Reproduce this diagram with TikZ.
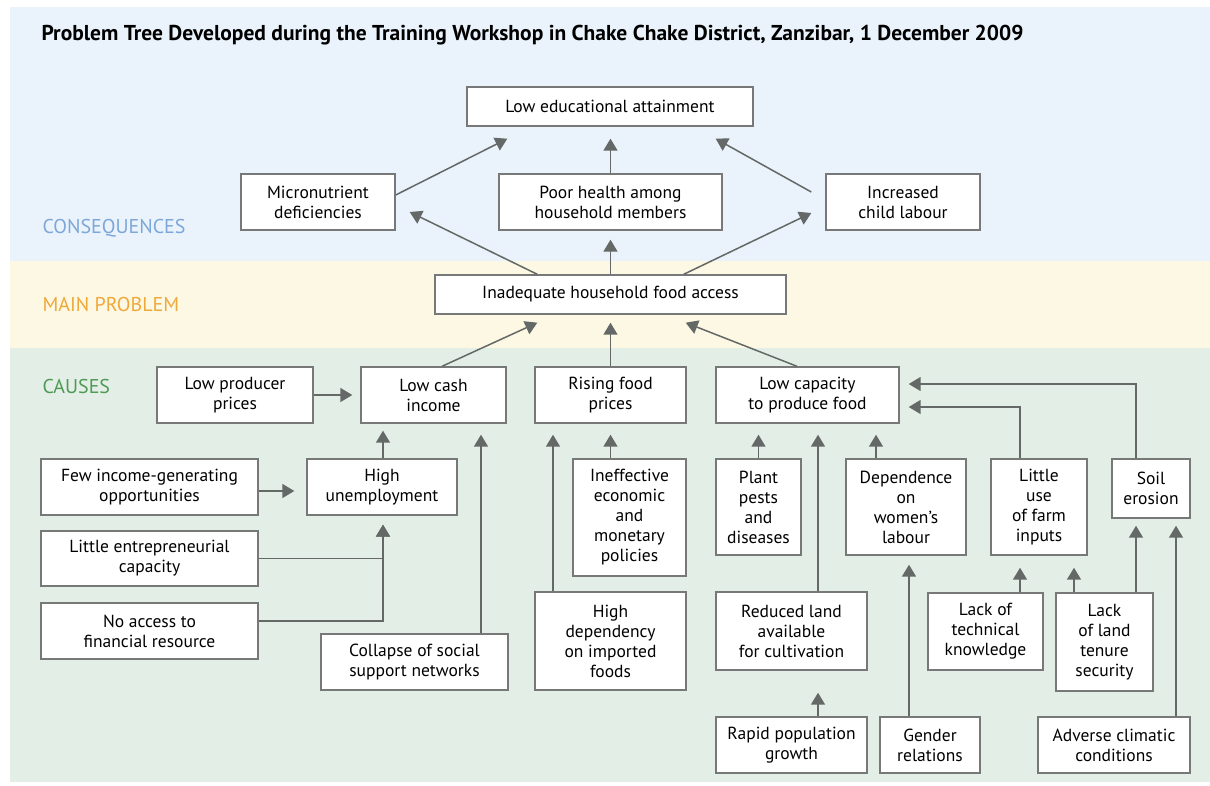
\documentclass[tikz,border=0pt]{standalone}
\usepackage{fontspec}
\setmainfont{PT Sans}
\usetikzlibrary{arrows.meta, calc}

\definecolor{bandblue}{HTML}{EAF3FB}
\definecolor{bandyellow}{HTML}{FCF8E4}
\definecolor{bandgreen}{HTML}{E3EFE6}
\definecolor{boxline}{HTML}{777978}
\definecolor{arrline}{HTML}{646866}
\definecolor{conscol}{HTML}{7CA7D8}
\definecolor{maincol}{HTML}{EFA83A}
\definecolor{causecol}{HTML}{4F9A55}

\begin{document}
\begin{tikzpicture}[
			x=1pt, y=-1pt,
			every node/.style={align=center},
			box/.style={rectangle, draw=boxline, fill=white, line width=1.4pt, inner sep=0pt,
				font=\fontsize{17.5}{20}\selectfont},
			band/.style={font=\fontsize{20}{24}\selectfont, anchor=base west},
			arr/.style={draw=arrline, line width=1.5pt, -{Triangle[width=14pt, length=12pt]}},
			>=Stealth
			]
			\useasboundingbox (0,0) rectangle (1210,785);
			% Bands
			\fill[bandblue] (10,7) rectangle (1210,261);
			\fill[bandyellow] (10,261) rectangle (1210,348);
			\fill[bandgreen] (10,348) rectangle (1210,782);
			
			% Headings
			\node[anchor=base west, font=\fontsize{21.5}{24}\selectfont\bfseries] (title) at (38,40)
				{Problem Tree Developed during the Training Workshop in Chake Chake District, Zanzibar, 1 December 2009};
			\node[band, text=conscol] (conslabel) at (39,233) {CONSEQUENCES};
			\node[band, text=maincol] (mainlabel) at (39,311) {MAIN PROBLEM};
			\node[band, text=causecol] (causelabel) at (39,393) {CAUSES};
			
			% Consequences
			\node[box, minimum width=286pt, minimum height=39pt] (lowedu) at (610,106.5) {Low educational attainment};
			\node[box, minimum width=154pt, minimum height=56pt] (micro) at (318,202) {Micronutrient\\deficiencies};
			\node[box, minimum width=223pt, minimum height=56pt] (health) at (610.5,202) {Poor health among\\household members};
			\node[box, minimum width=154pt, minimum height=56pt] (child) at (903,202) {Increased\\child labour};
			
			% Main problem
			\node[box, minimum width=351pt, minimum height=39pt] (access) at (610.5,294.5) {Inadequate household food access};
			
			% Causes
			\node[box, minimum width=156pt, minimum height=56pt] (producer) at (235,395) {Low producer\\prices};
			\node[box, minimum width=145pt, minimum height=56pt] (cash) at (433.5,395) {Low cash\\income};
			\node[box, minimum width=151pt, minimum height=56pt] (rising) at (610.5,395) {Rising food\\prices};
			\node[box, minimum width=183pt, minimum height=56pt] (lowcap) at (807.5,395) {Low capacity\\to produce food};
			
			\node[box, minimum width=217pt, minimum height=56pt] (fewinc) at (149.5,487) {Few income-generating\\opportunities};
			\node[box, minimum width=150pt, minimum height=56pt] (unemp) at (382,487) {High\\unemployment};
			\node[box, minimum width=217pt, minimum height=55pt] (entre) at (149.5,558.5) {Little entrepreneurial\\capacity};
			\node[box, minimum width=217pt, minimum height=56pt] (finance) at (149.5,631) {No access to\\financial resource};
			\node[box, minimum width=187pt, minimum height=56pt] (collapse) at (414.5,662) {Collapse of social\\support networks};
			
			\node[box, minimum width=113pt, minimum height=117pt] (policies) at (629.5,517.5) {Ineffective\\economic\\and\\monetary\\policies};
			\node[box, minimum width=151pt, minimum height=98pt] (imported) at (610.5,641) {High\\dependency\\on imported\\foods};
			
			\node[box, minimum width=85pt, minimum height=96pt] (pests) at (758.5,507) {Plant\\pests\\and\\diseases};
			\node[box, minimum width=120pt, minimum height=96pt] (women) at (906,507) {Dependence\\on\\women’s\\labour};
			\node[box, minimum width=96pt, minimum height=96pt] (inputs) at (1039,507) {Little\\use\\of farm\\inputs};
			\node[box, minimum width=78pt, minimum height=59pt] (erosion) at (1151,488.5) {Soil\\erosion};
			
			\node[box, minimum width=151pt, minimum height=78pt] (reduced) at (791.5,631) {Reduced land\\available\\for cultivation};
			\node[box, minimum width=115pt, minimum height=77pt] (technical) at (985.5,631.5) {Lack of\\technical\\knowledge};
			\node[box, minimum width=97pt, minimum height=98pt] (tenure) at (1104.5,642) {Lack\\of land\\tenure\\security};
			
			\node[box, minimum width=151pt, minimum height=56pt] (population) at (791.5,745) {Rapid population\\growth};
			\node[box, minimum width=100pt, minimum height=56pt] (gender) at (930,745) {Gender\\relations};
			\node[box, minimum width=152pt, minimum height=56pt] (climate) at (1114,745) {Adverse climatic\\conditions};
			
			% Arrows to consequences
			\draw[arr, shorten >=12pt] (health.north) -- (lowedu.south -| health.north);
			\draw[arr] ($(micro.east)+(0,-7)$) -- ($(lowedu.south west)+(41,12)$);
			\draw[arr] ($(child.west)+(-14,-10)$) -- ($(lowedu.south east)+(-38,12)$);
			\draw[arr] ($(access.north west)+(103,0)$) -- ($(micro.east)+(14,10)$);
			\draw[arr, shorten >=9pt] (access.north -| health.south) -- (health.south);
			\draw[arr] ($(access.north east)+(-103,0)$) -- ($(child.west)+(-14,11)$);
			
			% Arrows to main problem
			\draw[arr] ($(cash.north)+(8.5,0)$) -- ($(access.south west)+(103,8)$);
			\draw[arr, shorten >=8pt] (rising.north) -- (access.south -| rising.north);
			\draw[arr] ($(lowcap.north)+(-10.5,0)$) -- ($(access.south east)+(-101,8)$);
			
			% Arrows among causes
			\draw[arr, shorten >=8pt] (producer.east) -- (cash.west);
			\draw[arr, shorten >=12pt] ($(fewinc.east)+(0,4)$) -- ($(unemp.west)+(0,4)$);
			\draw[arr, shorten >=7pt] ($(unemp.north)+(1,0)$) -- ($(cash.south -| unemp.north)+(1,0)$);
			\draw[arr, shorten >=9pt] (entre.east) -| ($(unemp.south)+(1,0)$);
			\draw[arr, shorten >=9pt] ($(finance.east)+(0,-10)$) -| ($(unemp.south)+(1,0)$);
			\draw[arr, shorten >=11pt] ($(collapse.north)+(66.5,0)$) coordinate (collapsetop) -- (collapsetop |- cash.south);
			
			\draw[arr, shorten >=11pt] ($(imported.north)+(-57.5,0)$) coordinate (importedtop) -- (importedtop |- rising.south);
			\draw[arr, shorten >=11pt] (policies.north -| rising.south) -- (rising.south);
			
			\draw[arr, shorten >=11pt] (pests.north) -- (lowcap.south -| pests.north);
			\draw[arr, shorten >=11pt] ($(reduced.north)+(26.5,0)$) coordinate (reducedtop) -- (reducedtop |- lowcap.south);
			\draw[arr, shorten >=11pt] ($(women.north)+(-30,0)$) coordinate (womentop) -- (womentop |- lowcap.south);
			\draw[arr, shorten >=9pt] ($(inputs.north)+(-19,0)$) |- ($(lowcap.east)+(0,12)$);
			\draw[arr, shorten >=9pt] ($(erosion.north)+(-15,0)$) |- ($(lowcap.east)+(0,-11)$);
			
			\draw[arr, shorten >=22pt] ($(population.north)+(26.5,0)$) coordinate (poptop) -- (poptop |- reduced.south);
			\draw[arr, shorten >=9pt] ($(gender.north)+(-21,0)$) coordinate (gendertop) -- (gendertop |- women.south);
			\draw[arr, shorten >=12pt] ($(technical.north)+(34.5,0)$) coordinate (techtop) -- (techtop |- inputs.south);
			\draw[arr, shorten >=12pt] ($(tenure.north)+(-30.5,0)$) coordinate (tenuretopa) -- (tenuretopa |- inputs.south);
			\draw[arr, shorten >=7pt] ($(tenure.north)+(31.5,0)$) coordinate (tenuretopb) -- (tenuretopb |- erosion.south);
			\draw[arr, shorten >=7pt] ($(climate.north)+(62,0)$) coordinate (climatetop) -- (climatetop |- erosion.south);
		\end{tikzpicture}
\end{document}
